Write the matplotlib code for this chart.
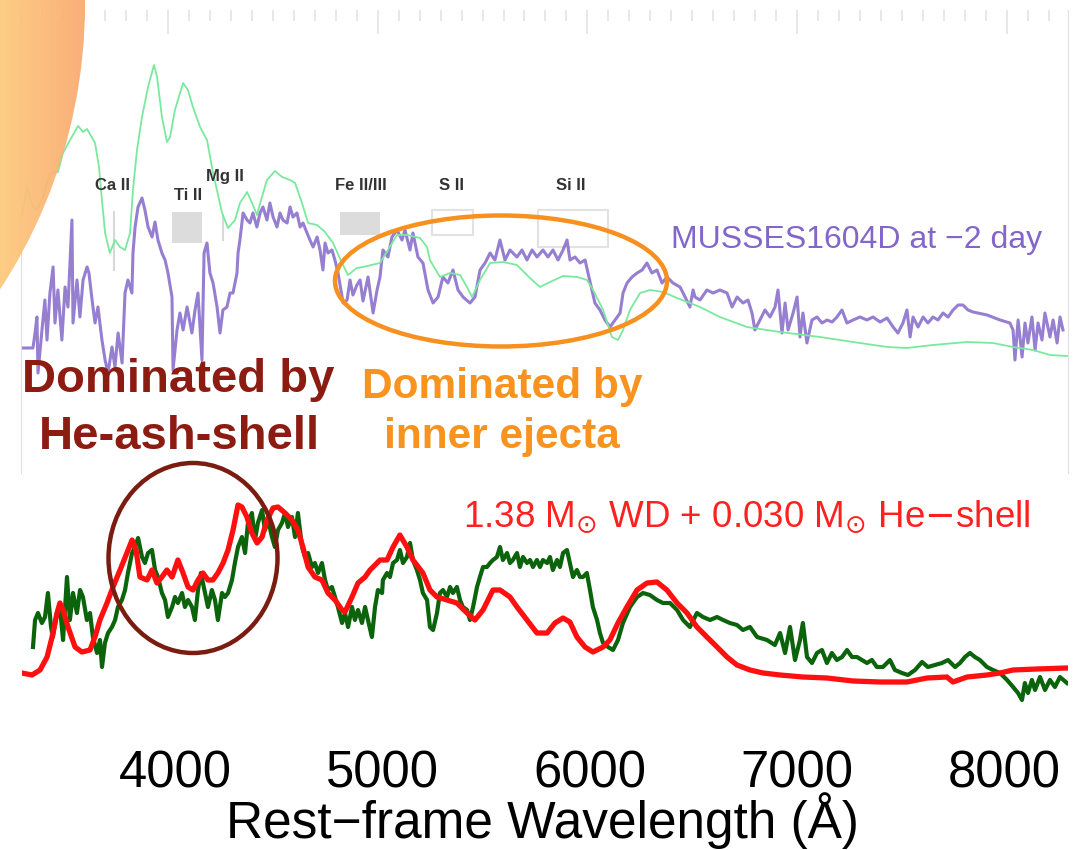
import numpy as np
import matplotlib
matplotlib.use('Agg')
import matplotlib.pyplot as plt
from matplotlib.patches import Ellipse, Circle, Rectangle
from matplotlib.ticker import MultipleLocator

plt.rcParams['font.family'] = ['Liberation Sans', 'DejaVu Sans']

top_model = [(3304, 2.58), (3328, 2.87), (3351, 2.68), (3375, 2.63), (3404, 2.76), (3437, 3.00),
             (3475, 3.01), (3499, 3.20), (3533, 3.33), (3571, 3.47), (3595, 3.41), (3614, 3.44),
             (3652, 3.30), (3671, 3.06), (3685, 2.73), (3700, 2.40), (3723, 2.20), (3747, 2.33),
             (3771, 2.26), (3795, 2.23), (3819, 2.40), (3833, 2.83), (3852, 3.23), (3876, 3.56),
             (3905, 3.86), (3933, 4.08), (3948, 3.96), (3971, 3.56), (3995, 3.31), (4010, 3.36),
             (4033, 3.63), (4072, 3.90), (4095, 3.83), (4119, 3.66), (4153, 3.46), (4186, 3.33),
             (4215, 3.00), (4258, 2.60), (4286, 2.45), (4320, 2.53), (4343, 2.70), (4377, 2.81),
             (4401, 2.70), (4424, 2.58), (4448, 2.76), (4472, 2.93), (4510, 3.02), (4544, 2.96),
             (4582, 2.93), (4606, 2.90), (4639, 2.70), (4668, 2.50), (4711, 2.48), (4749, 2.41),
             (4787, 2.30), (4830, 2.10), (4858, 1.98), (4901, 2.05), (4930, 2.06), (5011, 2.10),
             (5049, 2.23), (5092, 2.38), (5140, 2.38), (5202, 2.35), (5235, 2.26), (5249, 2.13),
             (5297, 1.96), (5345, 2.00), (5393, 1.98), (5426, 1.86), (5450, 1.76), (5488, 1.93),
             (5536, 2.10), (5598, 2.11), (5664, 2.08), (5726, 1.95), (5774, 1.86), (5822, 1.91),
             (5884, 1.97), (5951, 1.96), (5998, 1.93), (6027, 1.83), (6075, 1.63), (6117, 1.36),
             (6146, 1.33), (6170, 1.43), (6203, 1.63), (6251, 1.80), (6299, 1.83), (6361, 1.81),
             (6427, 1.75), (6489, 1.70), (6537, 1.66), (6632, 1.56), (6761, 1.46), (6919, 1.41),
             (7109, 1.36), (7267, 1.31), (7429, 1.26), (7524, 1.25), (7648, 1.28), (7810, 1.31),
             (7934, 1.30), (8030, 1.26), (8125, 1.23), (8206, 1.18), (8287, 1.17)]

top_obs = [(3304, 1.25), (3356, 1.25), (3366, 1.40), (3375, 1.56), (3380, 1.00), (3399, 1.43),
           (3413, 1.73), (3423, 1.33), (3437, 1.80), (3452, 2.06), (3461, 1.50), (3475, 1.83),
           (3494, 1.33), (3509, 1.86), (3523, 1.66), (3542, 2.53), (3547, 1.50), (3566, 1.93),
           (3580, 1.56), (3595, 1.93), (3614, 2.06), (3623, 2.00), (3638, 1.73), (3652, 1.50),
           (3666, 1.66), (3685, 1.33), (3700, 1.13), (3714, 1.00), (3733, 1.26), (3747, 1.06),
           (3762, 1.40), (3781, 1.10), (3795, 1.80), (3809, 1.93), (3828, 1.80), (3833, 2.20),
           (3843, 2.46), (3857, 2.66), (3876, 2.75), (3890, 2.63), (3905, 2.46), (3924, 2.36),
           (3938, 2.51), (3952, 2.33), (3971, 2.20), (3986, 2.13), (4000, 2.00), (4019, 1.76),
           (4024, 1.03), (4043, 1.43), (4057, 1.60), (4072, 1.43), (4091, 1.66), (4114, 1.40),
           (4129, 1.63), (4143, 1.80), (4162, 1.13), (4172, 2.20), (4186, 2.30), (4200, 2.00),
           (4215, 1.90), (4234, 1.66), (4248, 1.40), (4262, 1.63), (4281, 1.66), (4296, 1.80),
           (4310, 1.80), (4329, 2.00), (4334, 2.20), (4343, 2.33), (4358, 2.60), (4377, 2.53),
           (4391, 2.50), (4405, 2.60), (4424, 2.46), (4439, 2.60), (4453, 2.66), (4472, 2.53),
           (4486, 2.70), (4501, 2.56), (4520, 2.46), (4534, 2.60), (4548, 2.53), (4568, 2.50),
           (4582, 2.66), (4596, 2.56), (4615, 2.60), (4630, 2.46), (4644, 2.50), (4663, 2.40),
           (4677, 2.33), (4692, 2.26), (4711, 2.36), (4725, 2.23), (4739, 2.03), (4749, 2.30),
           (4763, 2.20), (4782, 2.23), (4796, 2.13), (4811, 2.00), (4835, 1.70), (4854, 1.73),
           (4868, 1.93), (4882, 1.78), (4901, 1.88), (4916, 1.93), (4930, 1.72), (4954, 1.96),
           (4978, 1.60), (4997, 1.83), (5011, 1.96), (5025, 2.23), (5049, 2.16), (5068, 2.36),
           (5092, 2.43), (5116, 2.33), (5130, 2.43), (5154, 2.23), (5168, 2.40), (5192, 2.16),
           (5216, 2.10), (5240, 1.83), (5264, 1.70), (5288, 1.76), (5311, 1.96), (5335, 1.90),
           (5359, 2.03), (5383, 1.83), (5407, 1.76), (5440, 1.70), (5464, 1.76), (5488, 2.03),
           (5512, 2.10), (5536, 2.20), (5559, 2.13), (5583, 2.33), (5607, 2.13), (5631, 2.23),
           (5664, 2.16), (5688, 2.23), (5712, 2.13), (5736, 2.23), (5760, 2.16), (5788, 2.23),
           (5812, 2.16), (5836, 2.23), (5860, 2.13), (5884, 2.23), (5903, 2.33), (5917, 2.13),
           (5941, 2.16), (5965, 2.10), (5989, 2.13), (6003, 2.00), (6022, 1.83), (6036, 1.70),
           (6060, 1.63), (6084, 1.53), (6108, 1.46), (6132, 1.53), (6156, 1.60), (6170, 1.80),
           (6189, 1.90), (6213, 1.96), (6237, 2.00), (6261, 2.03), (6284, 2.10), (6308, 2.00),
           (6332, 2.03), (6356, 1.90), (6380, 1.96), (6408, 1.90), (6442, 1.86), (6466, 1.76),
           (6489, 1.66), (6504, 1.83), (6513, 1.76), (6537, 1.73), (6570, 1.83), (6599, 1.80),
           (6632, 1.83), (6666, 1.80), (6690, 1.66), (6714, 1.76), (6742, 1.70), (6766, 1.73),
           (6785, 1.60), (6799, 1.43), (6823, 1.53), (6847, 1.63), (6871, 1.56), (6895, 1.66),
           (6909, 1.83), (6928, 1.40), (6943, 1.70), (6957, 1.43), (6981, 1.60), (7000, 1.76),
           (7014, 1.36), (7028, 1.60), (7047, 1.30), (7071, 1.53), (7095, 1.56), (7119, 1.50),
           (7143, 1.53), (7167, 1.51), (7190, 1.56), (7214, 1.63), (7238, 1.50), (7267, 1.53),
           (7300, 1.56), (7333, 1.53), (7362, 1.56), (7396, 1.51), (7429, 1.55), (7458, 1.46),
           (7481, 1.40), (7505, 1.50), (7524, 1.63), (7539, 1.36), (7553, 1.56), (7577, 1.46),
           (7601, 1.56), (7624, 1.50), (7648, 1.56), (7672, 1.53), (7696, 1.60), (7720, 1.56),
           (7744, 1.63), (7768, 1.68), (7791, 1.68), (7815, 1.63), (7839, 1.61), (7906, 1.58),
           (7968, 1.53), (8015, 1.50), (8030, 1.43), (8039, 1.13), (8054, 1.53), (8073, 1.16),
           (8087, 1.50), (8101, 1.30), (8120, 1.56), (8135, 1.23), (8149, 1.50), (8168, 1.33),
           (8182, 1.60), (8206, 1.36), (8221, 1.53), (8240, 1.30), (8254, 1.56), (8268, 1.43)]

# line identifications of the top panel
ion_names = ["Ca II", "Ti II", "Mg II", "Fe II/III", "S II", "Si II"]
ion_label_wl = [3733, 4095, 4272, 4920, 5350, 5922]
ion_label_flux = [2.88, 2.78, 2.97, 2.88, 2.88, 2.88]
ion_boxes = [(4019, 4162, 2.30, 2.61, True), (4820, 5011, 2.38, 2.61, True),
             (5259, 5455, 2.38, 2.63, False), (5765, 6098, 2.26, 2.63, False)]
ion_ticks = [(3742, 2.03, 2.61), (4262, 2.33, 2.58)]

# ---- bottom panel: model (red) and observed (dark green)
bottom_model = [(3262, 0.67), (3310, 0.65), (3349, 0.70), (3383, 0.83), (3407, 1.03), (3431, 1.27),
                (3445, 1.37), (3460, 1.30), (3484, 1.13), (3518, 0.93), (3551, 0.88), (3590, 0.90),
                (3614, 1.03), (3638, 1.20), (3672, 1.37), (3701, 1.53), (3735, 1.70), (3768, 1.87),
                (3793, 2.00), (3812, 1.90), (3831, 1.63), (3865, 1.60), (3889, 1.70), (3913, 1.57),
                (3937, 1.63), (3961, 1.70), (3986, 1.63), (4014, 1.80), (4039, 1.67), (4063, 1.53),
                (4087, 1.50), (4111, 1.60), (4135, 1.67), (4159, 1.60), (4183, 1.60), (4207, 1.67),
                (4232, 1.77), (4256, 1.90), (4280, 2.10), (4304, 2.35), (4323, 2.33), (4347, 2.23),
                (4371, 2.07), (4396, 1.97), (4420, 2.03), (4444, 2.20), (4473, 2.32), (4497, 2.33),
                (4531, 2.27), (4564, 2.20), (4593, 2.10), (4617, 1.93), (4642, 1.73), (4675, 1.63),
                (4709, 1.60), (4738, 1.47), (4772, 1.40), (4806, 1.30), (4820, 1.28), (4854, 1.43),
                (4883, 1.57), (4917, 1.63), (4941, 1.70), (4989, 1.80), (5023, 1.80), (5052, 1.93),
                (5085, 2.05), (5119, 1.93), (5148, 1.80), (5196, 1.67), (5230, 1.50), (5264, 1.43),
                (5312, 1.40), (5360, 1.37), (5409, 1.27), (5447, 1.20), (5486, 1.30), (5534, 1.50),
                (5568, 1.50), (5616, 1.43), (5650, 1.33), (5698, 1.20), (5746, 1.07), (5795, 1.07),
                (5833, 1.17), (5872, 1.22), (5905, 1.18), (5939, 1.03), (5978, 0.93), (6016, 0.88),
                (6065, 0.93), (6098, 1.00), (6137, 1.17), (6180, 1.33), (6229, 1.50), (6277, 1.57),
                (6325, 1.58), (6373, 1.50), (6422, 1.37), (6470, 1.27), (6518, 1.13), (6566, 1.03),
                (6615, 0.93), (6663, 0.83), (6711, 0.75), (6774, 0.70), (6837, 0.67), (6919, 0.65),
                (7029, 0.63), (7145, 0.62), (7271, 0.59), (7401, 0.58), (7531, 0.58), (7628, 0.62),
                (7724, 0.63), (7753, 0.58), (7821, 0.63), (7917, 0.65), (7980, 0.67), (8043, 0.70),
                (8158, 0.71), (8303, 0.72)]

bottom_obs = [(3315, 0.93), (3325, 1.20), (3339, 1.27), (3358, 1.17), (3373, 1.23), (3387, 1.47),
              (3402, 1.13), (3411, 1.03), (3431, 1.27), (3445, 1.33), (3460, 1.00), (3479, 1.63),
              (3493, 1.20), (3508, 1.47), (3527, 1.27), (3542, 1.50), (3556, 1.43), (3575, 1.20),
              (3590, 1.27), (3604, 1.03), (3624, 0.87), (3638, 1.00), (3648, 0.73), (3662, 0.97),
              (3677, 1.07), (3696, 1.13), (3711, 1.20), (3725, 1.33), (3744, 1.40), (3759, 1.50),
              (3773, 1.67), (3793, 1.87), (3807, 1.93), (3822, 2.02), (3841, 1.83), (3855, 1.77),
              (3870, 1.87), (3889, 1.90), (3904, 1.70), (3918, 1.63), (3937, 1.47), (3952, 1.40),
              (3966, 1.23), (3986, 1.33), (4000, 1.43), (4014, 1.37), (4034, 1.47), (4048, 1.33),
              (4063, 1.40), (4082, 1.33), (4096, 1.20), (4111, 1.50), (4125, 1.67), (4145, 1.47),
              (4159, 1.33), (4178, 1.50), (4193, 1.40), (4207, 1.20), (4227, 1.47), (4241, 1.43),
              (4256, 1.47), (4275, 1.60), (4289, 1.77), (4304, 1.93), (4323, 2.03), (4338, 1.87),
              (4352, 2.17), (4371, 2.27), (4386, 2.00), (4400, 2.17), (4420, 2.30), (4434, 2.10),
              (4449, 2.20), (4468, 2.03), (4482, 1.93), (4497, 2.10), (4516, 2.17), (4531, 2.27),
              (4545, 2.13), (4564, 2.23), (4579, 2.03), (4593, 2.27), (4613, 1.93), (4627, 1.83),
              (4642, 1.87), (4661, 1.73), (4675, 1.77), (4690, 1.67), (4709, 1.77), (4724, 1.60),
              (4738, 1.50), (4757, 1.53), (4772, 1.43), (4786, 1.33), (4806, 1.17), (4820, 1.27),
              (4835, 1.13), (4854, 1.33), (4868, 1.20), (4883, 1.30), (4902, 1.17), (4917, 1.33),
              (4931, 1.20), (4950, 1.03), (4965, 1.33), (4979, 1.50), (4999, 1.47), (5003, 1.60),
              (5023, 1.67), (5037, 1.63), (5052, 1.77), (5071, 1.80), (5085, 1.90), (5100, 1.77),
              (5119, 1.83), (5134, 1.97), (5148, 1.80), (5167, 1.70), (5182, 1.60), (5196, 1.47),
              (5216, 1.40), (5230, 1.13), (5245, 1.10), (5264, 1.27), (5278, 1.47), (5293, 1.50),
              (5312, 1.43), (5327, 1.53), (5341, 1.47), (5360, 1.53), (5375, 1.40), (5389, 1.33),
              (5409, 1.30), (5423, 1.20), (5438, 1.33), (5457, 1.53), (5471, 1.63), (5486, 1.73),
              (5505, 1.73), (5520, 1.77), (5534, 1.80), (5553, 1.83), (5568, 1.93), (5582, 1.80),
              (5602, 1.87), (5616, 1.77), (5630, 1.80), (5650, 1.87), (5664, 1.73), (5679, 1.83),
              (5698, 1.77), (5713, 1.80), (5727, 1.73), (5746, 1.80), (5761, 1.73), (5775, 1.80),
              (5795, 1.77), (5809, 1.83), (5823, 1.70), (5843, 1.80), (5857, 1.73), (5872, 1.87),
              (5891, 1.90), (5905, 1.77), (5920, 1.63), (5939, 1.70), (5954, 1.63), (5968, 1.63),
              (5987, 1.67), (6002, 1.50), (6016, 1.33), (6036, 1.20), (6050, 1.07), (6065, 0.97),
              (6089, 0.93), (6113, 0.90), (6137, 1.00), (6161, 1.17), (6195, 1.33), (6229, 1.43),
              (6258, 1.47), (6291, 1.45), (6325, 1.40), (6354, 1.37), (6388, 1.37), (6422, 1.30),
              (6451, 1.20), (6484, 1.13), (6518, 1.27), (6547, 1.23), (6581, 1.20), (6615, 1.23),
              (6644, 1.20), (6677, 1.17), (6711, 1.15), (6740, 1.10), (6774, 1.13), (6808, 1.03),
              (6856, 1.00), (6894, 0.95), (6919, 1.07), (6943, 0.87), (6967, 1.13), (6991, 0.80),
              (7015, 1.00), (7029, 1.17), (7049, 0.83), (7073, 0.77), (7097, 0.87), (7121, 0.90),
              (7145, 0.77), (7169, 0.87), (7193, 0.80), (7218, 0.83), (7242, 0.90), (7266, 0.83),
              (7290, 0.83), (7314, 0.80), (7338, 0.77), (7362, 0.80), (7386, 0.73), (7415, 0.73),
              (7449, 0.80), (7473, 0.70), (7507, 0.67), (7536, 0.65), (7570, 0.70), (7604, 0.78),
              (7632, 0.73), (7666, 0.75), (7700, 0.77), (7729, 0.80), (7763, 0.73), (7787, 0.77),
              (7811, 0.83), (7835, 0.87), (7859, 0.83), (7883, 0.80), (7917, 0.73), (7946, 0.70),
              (7980, 0.67), (8014, 0.60), (8043, 0.53), (8067, 0.47), (8086, 0.40), (8100, 0.57),
              (8115, 0.47), (8134, 0.60), (8149, 0.50), (8173, 0.63), (8197, 0.50), (8221, 0.60),
              (8245, 0.53), (8269, 0.63), (8303, 0.57)]

bottom_ticks = [4000, 5000, 6000, 7000, 8000]

W, H = 1079, 850


def box(x0, y0, x1, y1):
    # pixel box of the 1079x850 canvas -> figure fraction
    return [x0 / W, 1 - y1 / H, (x1 - x0) / W, (y1 - y0) / H]


fig = plt.figure(figsize=(W / 100, H / 100), dpi=100)

# ---------------- top panel
ax_top = fig.add_axes(box(21, 10, 1068, 473))
wl, fl = zip(*top_obs)
ax_top.plot(wl, fl, color='#7c5ec6', lw=2.2, alpha=0.8, zorder=2)
wl, fl = zip(*top_model)
ax_top.plot(wl, fl, color='#7ae99e', lw=1.3, zorder=3)
ax_top.set_xlim(3299, 8292)
ax_top.set_ylim(0, 4.63)

for x0, x1, y0, y1, filled in ion_boxes:
    if filled:
        ax_top.add_patch(Rectangle((x0, y0), x1 - x0, y1 - y0, fc='#dcdcdc', ec='none', zorder=1))
    else:
        ax_top.add_patch(Rectangle((x0, y0), x1 - x0, y1 - y0, fc='none', ec='#e2e2e2', lw=1.5, zorder=1))
for x, y0, y1 in ion_ticks:
    ax_top.plot([x, x], [y0, y1], color='#d8d8d8', lw=1.5, zorder=1)
for name, x, y in zip(ion_names, ion_label_wl, ion_label_flux):
    ax_top.text(x, y, name, ha='center', va='center', fontsize=12, fontweight='bold',
                color='#333333', zorder=4)

ax_top.text(6399, 2.25, 'MUSSES1604D at \u22122 day', ha='left', va='baseline',
            fontsize=23, color='#8266c9', zorder=4)

ax_top.xaxis.tick_top()
ax_top.set_xticks(bottom_ticks)
ax_top.xaxis.set_minor_locator(MultipleLocator(100))
ax_top.tick_params(axis='x', which='major', direction='in', length=17, width=1.2,
                   color='#e4e4e4', labeltop=False, labelbottom=False)
ax_top.tick_params(axis='x', which='minor', direction='in', length=8, width=1.2,
                   color='#e4e4e4', top=True, bottom=False)
ax_top.set_yticks([])
ax_top.spines['top'].set_visible(False)
ax_top.spines['bottom'].set_visible(False)
for s in ('left', 'right'):
    ax_top.spines[s].set_color('#e0e0e0')

# ---------------- bottom panel
ax_bot = fig.add_axes(box(22, 475, 1068, 740))
ax_bot.patch.set_alpha(0)
wl, fl = zip(*bottom_obs)
ax_bot.plot(wl, fl, color='#0b640b', lw=3.0, zorder=2)
wl, fl = zip(*bottom_model)
ax_bot.plot(wl, fl, color='#ff1010', lw=3.8, zorder=3)
ax_bot.set_xlim(3262, 8308)
ax_bot.set_ylim(0, 2.65)
ax_bot.set_xticks(bottom_ticks)
ax_bot.set_xticklabels([str(t) for t in bottom_ticks])
ax_bot.tick_params(axis='x', length=0, labelsize=36.5, pad=7)
ax_bot.set_yticks([])
for s in ax_bot.spines.values():
    s.set_visible(False)
ax_bot.set_xlabel('Rest\u2212frame Wavelength (\u00c5)', fontsize=37)
ax_bot.xaxis.set_label_coords(0.498, -0.195)
ax_bot.text(5389, 2.13, r'1.38 M$_{\odot}$ WD + 0.030 M$_{\odot}$ He$-$shell', ha='left',
            va='baseline', fontsize=26.5, color='#ff2020', zorder=4)

# ---------------- slide overlay (annotations)
ov = fig.add_axes([0, 0, 1, 1])
ov.patch.set_alpha(0)
ov.axis('off')

g = np.linspace(0, 1, 256)[None, :, None]
c0 = np.array([253, 202, 124]) / 255
c1 = np.array([249, 163, 108]) / 255
grad = c0 * (1 - g) + c1 * g
im = ov.imshow(grad, extent=(0, 100, 300, 0), aspect='auto', alpha=0.93, zorder=5)
im.set_clip_path(Circle((-437, 4), 522, transform=ov.transData))

ov.add_patch(Ellipse((501, 281), 332, 131, fill=False, ec='#f7901e', lw=3.2, zorder=6))
ov.add_patch(Ellipse((193, 558), 169, 190, fill=False, ec='#7a1c10', lw=3.2, zorder=6))

ov.text(178, 392, 'Dominated by', ha='center', va='baseline', fontsize=34,
        fontweight='bold', color='#8c1c12', zorder=7)
ov.text(179, 449, 'He-ash-shell', ha='center', va='baseline', fontsize=34,
        fontweight='bold', color='#8c1c12', zorder=7)
ov.text(502, 398, 'Dominated by', ha='center', va='baseline', fontsize=30.5,
        fontweight='bold', color='#f7931e', zorder=7)
ov.text(502, 448, 'inner ejecta', ha='center', va='baseline', fontsize=30.5,
        fontweight='bold', color='#f7931e', zorder=7)

ov.set_xlim(0, W)
ov.set_ylim(H, 0)

fig.savefig('out.png', dpi=100)
